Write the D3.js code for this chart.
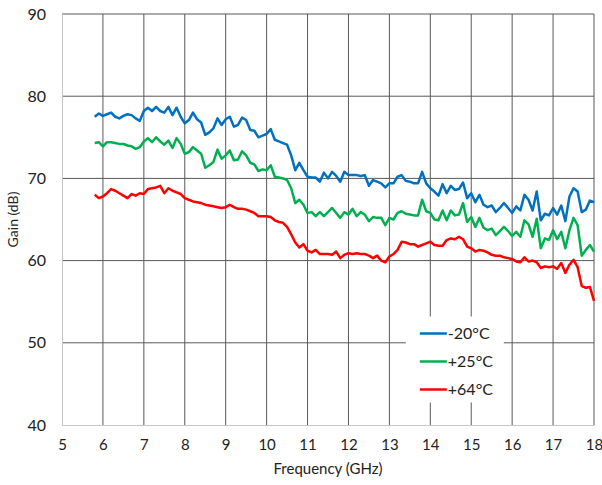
<!DOCTYPE html>
<html>
<head>
<meta charset="utf-8">
<script src="https://cdn.jsdelivr.net/npm/d3@7"></script>
<style>
  body { margin: 0; background: #fff; }
  text { font-family: Lato, "Open Sans", sans-serif; fill: #222; }
</style>
</head>
<body>
<div id="chart"></div>
<script>
// Frequency grid: 5.8 to 18.0 GHz in 0.1 GHz steps
const freq_start = 5.8, freq_step = 0.1;

const gain_m20 = [
  77.5, 77.9, 77.6, 77.8, 78.0, 77.5, 77.3, 77.6, 77.8, 77.7,
  77.3, 77.0, 78.2, 78.6, 78.2, 78.7, 78.2, 78.0, 78.7, 77.7,
  78.6, 77.5, 76.7, 77.1, 78.0, 77.2, 76.8, 75.3, 75.6, 76.1,
  77.3, 76.5, 77.2, 77.5, 76.3, 76.5, 77.4, 77.1, 75.9, 75.8,
  75.0, 75.2, 75.4, 76.0, 74.7, 74.5, 74.3, 74.1, 72.8, 71.0,
  71.9, 71.0, 70.2, 70.1, 70.1, 69.6, 70.7, 70.0, 70.8, 70.3,
  69.6, 70.8, 70.4, 70.4, 70.4, 70.3, 70.4, 69.1, 69.8, 69.6,
  69.4, 68.9, 69.4, 69.4, 70.2, 70.4, 69.7, 69.6, 69.4, 69.4,
  70.8, 69.4, 68.8, 68.4, 67.9, 69.3, 68.2, 69.1, 68.6, 68.7,
  69.5, 67.6, 68.2, 67.1, 68.0, 66.8, 66.5, 66.7, 65.9, 66.4,
  67.0, 66.4, 65.8, 66.6, 66.1, 68.0, 67.4, 66.1, 68.4, 64.9,
  65.7, 65.5, 66.4, 65.6, 66.7, 64.8, 67.8, 68.8, 68.4, 65.9,
  66.2, 67.3, 67.1
];

const gain_p25 = [
  74.3, 74.4, 73.9, 74.4, 74.4, 74.3, 74.2, 74.2, 74.0, 73.9,
  73.6, 73.8, 74.5, 74.9, 74.4, 75.0, 74.5, 74.1, 74.6, 73.7,
  74.9, 74.2, 73.0, 73.2, 73.8, 73.4, 73.0, 71.3, 71.6, 72.0,
  73.5, 72.4, 72.8, 73.4, 72.2, 72.3, 73.3, 72.8, 71.9, 71.7,
  70.9, 71.1, 71.0, 71.6, 70.2, 70.1, 70.0, 69.8, 68.8, 67.0,
  67.4, 66.8, 65.8, 65.9, 65.4, 65.9, 65.4, 65.9, 66.4, 65.8,
  65.2, 65.9, 65.6, 66.3, 65.4, 65.9, 65.6, 64.8, 65.3, 65.2,
  65.2, 64.3, 65.2, 65.0, 65.8, 66.0, 65.7, 65.6, 65.5, 65.5,
  67.4, 66.0, 65.8, 65.0, 64.9, 66.1, 64.9, 66.1, 65.5, 65.6,
  67.0, 64.7, 65.3, 64.1, 65.2, 64.0, 63.7, 63.9, 63.1, 63.6,
  64.1, 63.6, 63.0, 63.5, 62.9, 64.9, 64.4, 62.9, 65.1, 61.5,
  62.7, 62.5, 63.7, 62.6, 63.5, 61.5, 63.7, 65.2, 64.3, 60.6,
  61.3, 61.9, 61.1
];

const gain_p64 = [
  68.0, 67.6, 67.8, 68.2, 68.7, 68.5, 68.2, 67.9, 67.6, 68.1,
  67.9, 68.2, 68.1, 68.7, 68.8, 68.9, 69.1, 68.2, 68.8, 68.5,
  68.3, 68.1, 67.6, 67.4, 67.2, 67.1, 67.0, 66.8, 66.7, 66.6,
  66.5, 66.4, 66.5, 66.8, 66.5, 66.3, 66.3, 66.2, 66.0, 65.8,
  65.4, 65.4, 65.4, 65.3, 64.9, 64.7, 64.6, 64.1, 63.2, 62.2,
  61.6, 62.0, 61.2, 61.0, 61.3, 60.8, 60.8, 60.8, 60.7, 61.1,
  60.3, 60.7, 60.9, 60.8, 60.9, 60.8, 60.8, 60.6, 60.3, 60.6,
  60.0, 59.8, 60.5, 60.8, 61.3, 62.3, 62.2, 62.0, 62.0, 61.7,
  61.9, 62.1, 62.3, 61.9, 61.8, 61.8, 62.5, 62.7, 62.6, 62.9,
  62.6, 61.7, 61.5, 61.1, 61.3, 61.2, 61.0, 60.7, 60.6, 60.6,
  60.4, 60.3, 60.2, 59.9, 59.8, 60.4, 59.9, 60.0, 59.8, 59.1,
  59.3, 59.2, 59.3, 59.0, 59.7, 58.5, 59.5, 60.1, 59.2, 56.9,
  56.7, 56.8, 55.1
];

const series_names = ["-20°C", "+25°C", "+64°C"];
const series_colors = ["#0070C0", "#00B050", "#FF0000"];
const x_ticks = d3.range(5, 19, 1);
const y_ticks = [40, 50, 60, 70, 80, 90];

let margin = {top: 14, right: 8, bottom: 60, left: 62},
    width = 602 - margin.left - margin.right,
    height = 485 - margin.top - margin.bottom;

let svg = d3.select("#chart")
.append("svg")
.attr("width", 602)
.attr("height", 485)
.append("g")
.attr("transform", "translate(" + margin.left + "," + margin.top + ")");

let x = d3.scaleLinear().domain([5, 18]).range([0, width]);
let y = d3.scaleLinear().domain([40, 90]).range([height, 0]);

// Grid lines (vertical every GHz, horizontal every 10 dB)
svg.append("g")
.selectAll("line")
.data(x_ticks.filter(d => d > 5))
.enter()
.append("line")
.attr("x1", d => x(d)).attr("x2", d => x(d))
.attr("y1", 0).attr("y2", height)
.attr("stroke", "#595959")
.attr("stroke-width", 1);

svg.append("g")
.selectAll("line")
.data(y_ticks.filter(d => d > 40))
.enter()
.append("line")
.attr("x1", 0).attr("x2", width)
.attr("y1", d => y(d)).attr("y2", d => y(d))
.attr("stroke", "#595959")
.attr("stroke-width", 1);

// Axes (light grey lines, no tick marks)
let xAxis = svg.append("g")
.attr("transform", "translate(0," + height + ")")
.call(d3.axisBottom(x).tickValues(x_ticks).tickSize(0).tickPadding(14).tickFormat(d3.format("d")));
xAxis.select(".domain").attr("stroke", "#c8c8c8");
xAxis.selectAll("text").style("font-size", "15px");

let yAxis = svg.append("g")
.call(d3.axisLeft(y).tickValues(y_ticks).tickSize(0).tickPadding(16).tickFormat(d3.format("d")));
yAxis.select(".domain").attr("stroke", "#c8c8c8");
yAxis.selectAll("text").style("font-size", "16px");

// Axis titles
svg.append("text")
.attr("text-anchor", "middle")
.attr("x", width / 2)
.attr("y", height + 49)
.style("font-size", "15px")
.text("Frequency (GHz)");

svg.append("text")
.attr("text-anchor", "middle")
.attr("transform", "rotate(-90)")
.attr("x", -height / 2)
.attr("y", -44)
.style("font-size", "14px")
.text("Gain (dB)");

// Curves
const all_series = [gain_m20, gain_p25, gain_p64];
let line = d3.line()
.x((d, i) => x(freq_start + i * freq_step))
.y(d => y(d));

svg.append("g")
.selectAll("path")
.data(all_series)
.enter()
.append("path")
.attr("d", d => line(d))
.attr("fill", "none")
.attr("stroke", (d, i) => series_colors[i])
.attr("stroke-width", 2.5)
.attr("stroke-linejoin", "round");

// Legend with white box over the grid
let legend = svg.append("g")
.attr("transform", "translate(" + (x(13.45)) + "," + (y(53.2)) + ")");

legend.append("rect")
.attr("x", -2).attr("y", 0)
.attr("width", 98).attr("height", 86)
.attr("fill", "#fff");

let items = legend.selectAll("g.item")
.data(series_names)
.enter()
.append("g")
.attr("transform", (d, i) => "translate(0," + (17 + i * 28) + ")");

items.append("line")
.attr("x1", 12).attr("x2", 39)
.attr("y1", 0).attr("y2", 0)
.attr("stroke", (d, i) => series_colors[i])
.attr("stroke-width", 2.5);

items.append("text")
.attr("x", 40)
.attr("y", 5.5)
.style("font-size", "16px")
.text(d => d);
</script>
</body>
</html>
